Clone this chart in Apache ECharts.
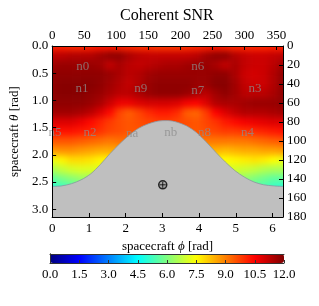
<!DOCTYPE html>
<html><head><meta charset="utf-8">
<script src="https://cdn.jsdelivr.net/npm/echarts@6/dist/echarts.min.js"></script>
<style>html,body{margin:0;padding:0;background:#fff}#c{width:319px;height:306px}</style>
</head><body><div id="c"></div>
<script>
const _ = null;
// grid of SNR values: rows = theta (deg), columns = phi (deg)
const phiDeg = [0,15,30,45,60,75,90,105,120,135,150,165,180,195,210,225,240,255,270,285,300,315,330,345,360];
const thetaDeg = [0,10,20,30,40,50,60,70,80,90,100,110,120,130,140,150,160,170,180];
const snr = [
  [10.1,10.1,10.0,10.0,10.1,10.2,10.2,10.1,10.0,9.9,9.9,9.8,9.8,9.8,9.9,10.0,10.1,10.2,10.1,10.0,10.0,10.0,10.0,10.1,10.1],
  [11.3,11.3,11.4,11.4,11.4,11.6,11.8,11.8,11.5,11.3,11.2,11.2,11.2,11.2,11.2,11.3,11.6,11.8,11.8,11.4,11.2,11.1,11.1,11.2,11.3],
  [11.6,11.7,11.7,11.7,11.7,11.6,11.2,11.5,11.3,11.2,11.3,11.4,11.5,11.5,11.6,11.7,11.7,11.5,11.2,11.5,11.2,11.1,11.1,11.3,11.6],
  [11.8,11.8,11.8,11.8,11.8,11.8,11.7,11.5,11.3,11.4,11.6,11.7,11.7,11.7,11.7,11.7,11.7,11.8,11.8,11.5,11.1,11.0,11.1,11.4,11.8],
  [11.8,11.9,11.9,11.9,11.9,11.8,11.6,11.4,11.2,11.4,11.7,11.8,11.8,11.8,11.8,11.7,11.7,11.9,11.9,11.6,11.2,11.1,11.1,11.4,11.8],
  [11.8,11.9,11.9,11.9,11.8,11.7,11.5,11.3,11.3,11.5,11.7,11.8,11.8,11.8,11.7,11.5,11.3,11.6,11.8,11.6,11.3,11.3,11.3,11.5,11.8],
  [11.8,11.8,11.8,11.8,11.7,11.5,11.1,10.7,10.7,10.9,11.0,11.0,11.0,10.9,10.6,10.5,10.9,11.4,11.5,11.5,11.6,11.7,11.7,11.7,11.8],
  [11.6,11.6,11.6,11.5,11.3,10.9,10.4,9.7,9.4,9.7,10.0,10.2,10.2,10.0,9.4,9.3,9.8,10.5,10.9,11.2,11.4,11.4,11.4,11.5,11.6],
  [10.9,10.9,10.9,10.7,10.4,10.1,9.8,9.6,9.5,9.6,9.7,9.8,9.8,9.7,9.6,9.5,9.7,9.9,10.2,10.4,10.6,10.7,10.8,10.9,10.9],
  [10.3,10.3,10.3,10.2,10.1,9.9,9.7,9.6,9.5,9.5,_,_,_,_,_,9.5,9.6,9.7,9.8,9.8,9.9,10.0,10.1,10.2,10.3],
  [9.5,9.5,9.5,9.4,9.3,9.2,9.1,9.2,_,_,_,_,_,_,_,_,9.1,9.1,9.1,9.1,9.1,9.2,9.3,9.4,9.5],
  [8.7,8.8,8.8,8.7,8.6,8.5,8.5,_,_,_,_,_,_,_,_,_,_,8.4,8.3,8.4,8.5,8.5,8.6,8.6,8.7],
  [7.3,7.6,7.9,7.9,7.8,7.6,_,_,_,_,_,_,_,_,_,_,_,_,7.5,7.6,7.7,7.8,7.7,7.5,7.3],
  [6.5,6.8,7.0,7.1,7.1,_,_,_,_,_,_,_,_,_,_,_,_,_,_,7.0,6.9,6.8,6.6,6.5,6.5],
  [5.6,5.9,6.1,6.3,_,_,_,_,_,_,_,_,_,_,_,_,_,_,_,_,6.2,6.0,5.8,5.6,5.6],
  [4.9,5.1,5.3,_,_,_,_,_,_,_,_,_,_,_,_,_,_,_,_,_,_,_,5.3,5.1,4.9],
  [_,_,_,_,_,_,_,_,_,_,_,_,_,_,_,_,_,_,_,_,_,_,_,_,_],
  [_,_,_,_,_,_,_,_,_,_,_,_,_,_,_,_,_,_,_,_,_,_,_,_,_],
  [_,_,_,_,_,_,_,_,_,_,_,_,_,_,_,_,_,_,_,_,_,_,_,_,_]
];
// occluded region boundary (theta in rad) at phi (deg)
const boundaryPhiDeg = [0,15,30,45,60,75,90,105,120,135,150,165,180,195,210,225,240,255,270,285,300,315,330,345,360];
const boundaryTheta = [2.58,2.57,2.53,2.46,2.35,2.18,1.98,1.80,1.64,1.51,1.43,1.38,1.37,1.40,1.47,1.59,1.76,1.95,2.13,2.29,2.41,2.50,2.55,2.57,2.58];
// node labels
const nodeNames = ['n0','n1','n9','n6','n7','n3','n5','n2','na','nb','n8','n4'];
const nodePhi   = [0.83,0.81,2.41,3.96,3.96,5.52,0.08,1.03,2.18,3.23,4.15,5.32];
const nodeTheta = [0.37,0.79,0.79,0.37,0.81,0.79,1.59,1.59,1.60,1.59,1.59,1.59];
const source = [3.01, 2.55];
const cbarMin = 0, cbarMax = 12, cbarStep = 1.5;
const jet = ['#00007f','#0000ff','#007fff','#00ffff','#7fff7f','#ffff00','#ff7f00','#ff0000','#7f0000'];

const D = Math.PI / 180;
const nR = thetaDeg.length, nC = phiDeg.length;
const isNull = (i, j) => i < 0 || j < 0 || i >= nR || j >= nC || snr[i][j] === null;
const cells = [];
for (let i = 0; i < nR; i++) {
  for (let j = 0; j < nC; j++) {
    const v = snr[i][j];
    if (v === null) continue;
    const p0 = Math.max(0, phiDeg[j] - 7.5) * D, p1 = Math.min(360, phiDeg[j] + 7.5) * D;
    const t0 = Math.max(0, thetaDeg[i] - 5) * D, t1 = Math.min(180, thetaDeg[i] + 5) * D;
    // flags: extend painting toward hidden / outside neighbours (used only for soft rendering)
    cells.push([p0, p1, t0, t1, v, isNull(i, j - 1) ? 1 : 0, isNull(i, j + 1) ? 1 : 0, isNull(i - 1, j) ? 1 : 0, isNull(i + 1, j) ? 1 : 0]);
  }
}
const boundary = boundaryPhiDeg.map((p, i) => [p * D, boundaryTheta[i]]);
const nodes = nodeNames.map((n, i) => [nodePhi[i], nodeTheta[i], n]);

const FF = 'Liberation Serif';
const lbl = {fontFamily: FF, fontSize: 13, color: '#000'};
const line = {show: true, onZero: false, lineStyle: {color: '#000', width: 1}};
const tick = {show: true, inside: true, length: 4, lineStyle: {color: '#000', width: 1}};
const ZL = 1;

const chart = echarts.init(document.getElementById('c'), null, {renderer: 'canvas'});
chart.setOption({
  animation: false,
  backgroundColor: 'transparent',
  textStyle: {fontFamily: FF},
  title: {zlevel: ZL, text: 'Coherent SNR', left: 120, top: 8, padding: 0,
    textStyle: {fontFamily: FF, fontSize: 16, fontWeight: 'normal', color: '#000'}},
  grid: [
    {left: 50, top: 46, width: 233, height: 171},
    {left: 50, top: 254, width: 234, height: 9}
  ],
  xAxis: [
    {zlevel: ZL, gridIndex: 0, type: 'value', min: 0, max: 2 * Math.PI, interval: 1, position: 'bottom', z: 10,
      axisLine: line, axisTick: tick, splitLine: {show: false},
      axisLabel: Object.assign({margin: 5, showMaxLabel: false}, lbl),
      name: '{a|spacecraft }{b|ϕ}{a| [rad]}', nameLocation: 'middle', nameGap: 20,
      nameTextStyle: {rich: {a: lbl, b: Object.assign({fontStyle: 'italic'}, lbl)}}},
    {zlevel: ZL, gridIndex: 0, type: 'value', min: 0, max: 360, interval: 50, position: 'top', z: 10,
      axisLine: line, axisTick: tick, splitLine: {show: false},
      axisLabel: Object.assign({margin: 4, showMaxLabel: false}, lbl)},
    {zlevel: ZL, gridIndex: 1, type: 'value', min: cbarMin, max: cbarMax, interval: cbarStep, position: 'bottom', z: 10,
      axisLine: {show: true, onZero: false, lineStyle: {color: '#333', width: 1}},
      axisTick: {show: true, inside: true, length: 3, lineStyle: {color: '#333'}}, splitLine: {show: false},
      axisLabel: Object.assign({margin: 5, formatter: v => v.toFixed(1)}, lbl)},
    {zlevel: ZL, gridIndex: 1, type: 'value', min: cbarMin, max: cbarMax, position: 'top', z: 10,
      axisLine: {show: true, onZero: false, lineStyle: {color: '#333', width: 1}},
      axisTick: {show: false}, axisLabel: {show: false}, splitLine: {show: false}}
  ],
  yAxis: [
    {zlevel: ZL, gridIndex: 0, type: 'value', min: 0, max: Math.PI, interval: 0.5, inverse: true, position: 'left', z: 10,
      axisLine: line, axisTick: tick, splitLine: {show: false},
      axisLabel: Object.assign({margin: 4, showMaxLabel: false, formatter: v => v.toFixed(1)}, lbl),
      name: '{a|spacecraft }{b|θ}{a| [rad]}', nameLocation: 'middle', nameGap: 26,
      nameTextStyle: {rich: {a: lbl, b: Object.assign({fontStyle: 'italic'}, lbl)}}},
    {zlevel: ZL, gridIndex: 0, type: 'value', min: 0, max: 180, interval: 20, inverse: true, position: 'right', z: 10,
      axisLine: line, axisTick: tick, splitLine: {show: false},
      axisLabel: Object.assign({margin: 4}, lbl)},
    {zlevel: ZL, gridIndex: 1, type: 'value', min: 0, max: 1, position: 'left', z: 10,
      axisLine: {show: true, lineStyle: {color: '#333', width: 1}}, axisTick: {show: false}, axisLabel: {show: false}, splitLine: {show: false}},
    {zlevel: ZL, gridIndex: 1, type: 'value', min: 0, max: 1, position: 'right', z: 10,
      axisLine: {show: true, lineStyle: {color: '#333', width: 1}}, axisTick: {show: false}, axisLabel: {show: false}, splitLine: {show: false}}
  ],
  visualMap: {
    zlevel: ZL, type: 'continuous', min: cbarMin, max: cbarMax, seriesIndex: 0, dimension: 4,
    orient: 'horizontal', left: 50, top: 254, itemWidth: 9, itemHeight: 234, padding: 0,
    calculable: false, hoverLink: false, text: null, inRange: {color: jet}
  },
  series: [
    {type: 'custom', zlevel: 0, xAxisIndex: 0, yAxisIndex: 0, data: cells, clip: false, z: 1,
      encode: {x: [0, 1], y: [2, 3]},
      renderItem: function (params, api) {
        const a = api.coord([api.value(0), api.value(2)]);
        const b = api.coord([api.value(1), api.value(3)]);
        const E = 9;
        let x0 = Math.min(a[0], b[0]), x1 = Math.max(a[0], b[0]) + 0.6;
        let y0 = Math.min(a[1], b[1]), y1 = Math.max(a[1], b[1]) + 0.6;
        if (api.value(5)) x0 -= E;
        if (api.value(6)) x1 += E;
        if (api.value(7)) y0 -= E;
        if (api.value(8)) y1 += E;
        return {type: 'rect', shape: {x: x0, y: y0, width: x1 - x0, height: y1 - y0},
          style: {fill: api.visual('color')}};
      }},
    {type: 'line', zlevel: ZL, xAxisIndex: 0, yAxisIndex: 0, data: boundary, smooth: 0.3,
      showSymbol: false, symbol: 'none', z: 3, clip: true,
      lineStyle: {color: '#8a96a0', width: 0.8},
      areaStyle: {color: '#bfbfbf', opacity: 1, origin: 'end'}},
    {type: 'scatter', zlevel: ZL, xAxisIndex: 0, yAxisIndex: 0, data: nodes, symbolSize: 1, z: 5,
      itemStyle: {color: 'rgba(0,0,0,0)'},
      label: {show: true, position: 'inside', formatter: p => p.data[2],
        fontFamily: FF, fontSize: 13, color: 'rgba(140,140,140,0.95)'}},
    {type: 'scatter', zlevel: ZL, xAxisIndex: 0, yAxisIndex: 0, data: [source], symbol: 'circle', symbolSize: 8, z: 6,
      itemStyle: {color: '#a0a0a0', borderColor: '#000', borderWidth: 1.5}},
    {type: 'scatter', zlevel: ZL, xAxisIndex: 0, yAxisIndex: 0, data: [source], symbol: 'path://M5,0L5,10M0,5L10,5', symbolSize: 6, z: 7,
      itemStyle: {color: 'none', borderColor: '#000', borderWidth: 1}}
  ]
});
// soft (smooth-shaded) look for the SNR map layer, clipped to the plot area
const layer = chart.getZr().painter.getLayer(0);
const r = chart.getModel().getComponent('grid', 0).coordinateSystem.getRect();
if (layer && layer.dom) {
  const W = chart.getWidth(), H = chart.getHeight();
  layer.dom.style.filter = 'blur(3px)';
  layer.dom.style.clipPath = 'inset(' + r.y + 'px ' + (W - r.x - r.width) + 'px ' + (H - r.y - r.height) + 'px ' + r.x + 'px)';
}
</script></body></html>
